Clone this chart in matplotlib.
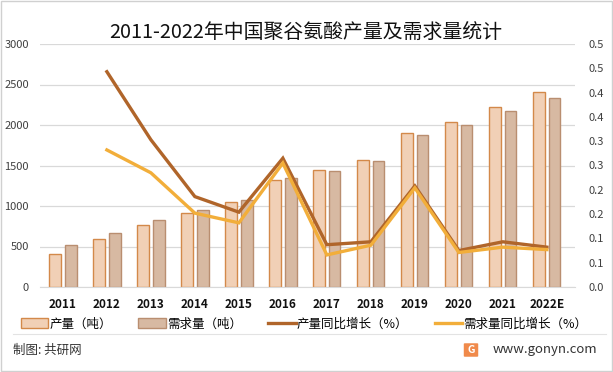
import matplotlib
matplotlib.use("Agg")
import matplotlib.pyplot as plt
from matplotlib.patches import Rectangle, FancyBboxPatch
from matplotlib.lines import Line2D
import numpy as np

plt.rcParams['font.family'] = ['Noto Sans CJK SC', 'DejaVu Sans']

years = ['2011', '2012', '2013', '2014', '2015', '2016', '2017', '2018', '2019', '2020', '2021', '2022E']
production = [407, 590, 765, 912, 1048, 1318, 1443, 1566, 1898, 2035, 2219, 2404]
demand = [518, 670, 826, 950, 1072, 1348, 1430, 1553, 1874, 1997, 2170, 2330]
prod_growth = [None, 0.443, 0.303, 0.186, 0.154, 0.265, 0.087, 0.093, 0.208, 0.075, 0.093, 0.082]
dem_growth = [None, 0.282, 0.235, 0.152, 0.132, 0.255, 0.066, 0.086, 0.204, 0.071, 0.082, 0.077]
left_ticks = [0, 500, 1000, 1500, 2000, 2500, 3000]
right_ticks = [0, 0.05, 0.1, 0.15, 0.2, 0.25, 0.3, 0.35, 0.4, 0.45, 0.5]
right_tick_labels = ['0.0', '0.1', '0.1', '0.2', '0.2', '0.3', '0.3', '0.4', '0.4', '0.5', '0.5']
labels = ['产量（吨）', '需求量（吨）', '产量同比增长（%）', '需求量同比增长（%）']
title = '2011-2022年中国聚谷氨酸产量及需求量统计'

W, H = 613, 372
fig = plt.figure(figsize=(W/100, H/100), dpi=100)
fig.patches.append(Rectangle((0.002, 0.003), 0.996, 0.994, transform=fig.transFigure,
                             fill=False, edgecolor='#D0D0D0', linewidth=1))

ax = fig.add_axes([40/W, 1-287/H, 535/W, 243/H])
x = np.arange(len(years))
bw = 0.27
off = 0.175
ax.bar(x - off, production, bw, color='#F1D0B6', edgecolor='#D3894A', linewidth=1, zorder=2, label=labels[0])
ax.bar(x + off, demand, bw, color='#D7B9A2', edgecolor='#B98E70', linewidth=1, zorder=2, label=labels[1])
ax.set_ylim(0, 3000)
ax.set_xlim(-0.52, 11.64)
ax.set_yticks(left_ticks)
ax.set_xticks(x)
ax.set_xticklabels(years, fontweight='bold', fontsize=8.5, color='#111111')
ax.tick_params(axis='x', length=0, pad=8)
ax.tick_params(axis='y', length=0, labelsize=8, labelcolor='#404040', pad=8)
for yv in left_ticks:
    ax.axhline(yv, color='#D9D9D9', linewidth=0.9, zorder=0)
for s in ['top', 'right', 'left']:
    ax.spines[s].set_visible(False)
ax.spines['bottom'].set_color('#D9D9D9')

ax2 = ax.twinx()
xs = x[1:]
ax2.plot(xs, prod_growth[1:], color='#B0652A', linewidth=2.4, zorder=3, label=labels[2], solid_joinstyle='miter')
ax2.plot(xs, dem_growth[1:], color='#F2AE3A', linewidth=2.4, zorder=4, label=labels[3], solid_joinstyle='miter')
ax2.set_ylim(0, 0.5)
ax2.set_yticks(right_ticks)
ax2.set_yticklabels(right_tick_labels)
ax2.tick_params(axis='y', length=0, labelsize=8, labelcolor='#404040', pad=10)
for s in ['top', 'right', 'left', 'bottom']:
    ax2.spines[s].set_visible(False)

fig.text(306/W, 1-33/H, title, fontsize=14.3, ha='center', va='center', color='#111111')

handles = [Rectangle((0, 0), 1, 1, facecolor='#F1D0B6', edgecolor='#D3894A'),
           Rectangle((0, 0), 1, 1, facecolor='#D7B9A2', edgecolor='#B98E70'),
           Line2D([], [], color='#B0652A', linewidth=2.4),
           Line2D([], [], color='#F2AE3A', linewidth=2.4)]
fig.legend(handles, labels, loc='center', bbox_to_anchor=(304/W, 1-324/H), ncol=4, frameon=False,
           fontsize=9, handlelength=2.2, handleheight=0.8, handletextpad=0.1, columnspacing=2.1,
           borderaxespad=0, borderpad=0)

fig.add_artist(Line2D([13/W, 606/W], [1-334/H, 1-334/H], color='#E3E3E3', linewidth=0.8, transform=fig.transFigure))
fig.text(13/W, 1-350.5/H, '制图: 共研网', fontsize=9, ha='left', va='center', color='#333333')
fig.text(597/W, 1-349.5/H, 'www.gonyn.com', fontsize=9.5, ha='right', va='center', color='#333333')
fig.patches.append(FancyBboxPatch((465/W, 1-356/H), 12/W, 12/H, boxstyle='round,pad=0.002',
                                  transform=fig.transFigure, facecolor='#F08A4B', edgecolor='none'))
fig.text(471/W, 1-350/H, 'G', fontsize=7.5, fontweight='bold', ha='center', va='center', color='white')

fig.savefig('out.png', dpi=100)
